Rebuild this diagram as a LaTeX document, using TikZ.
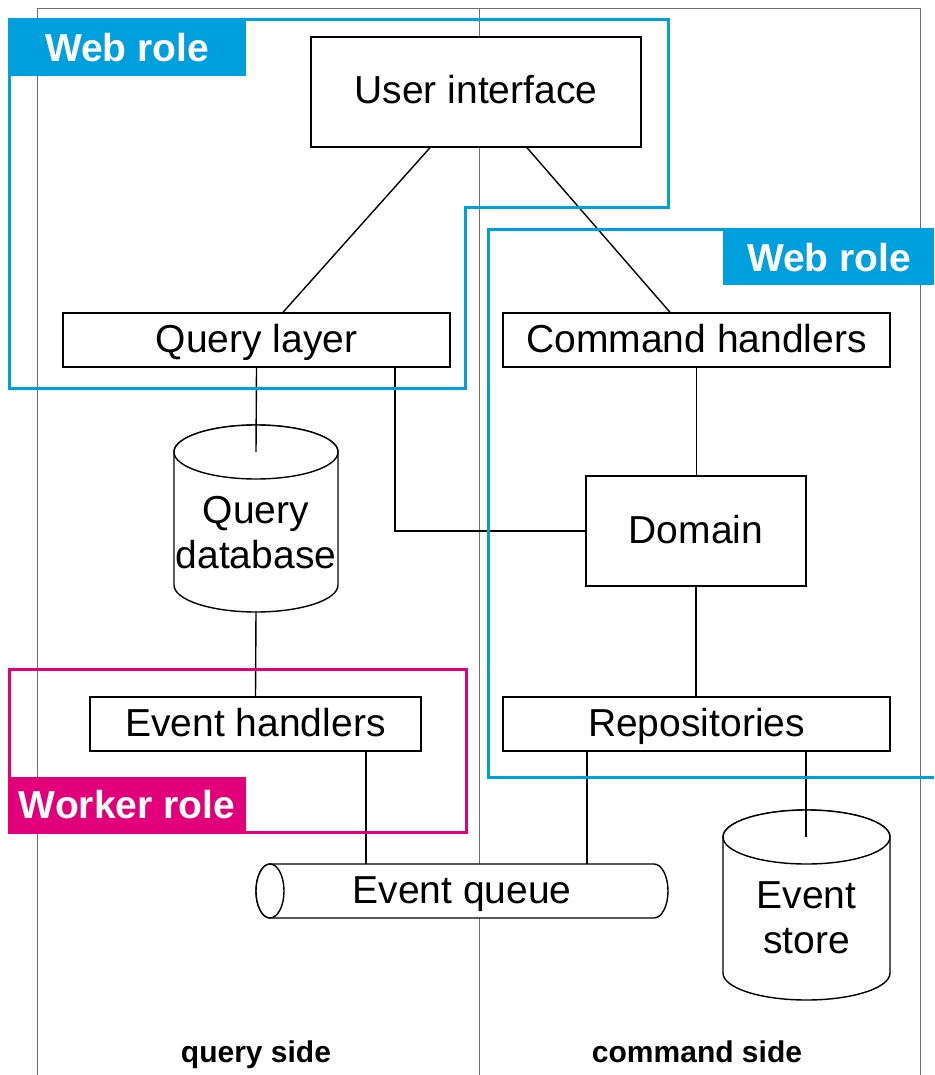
\documentclass[tikz,border=0pt]{standalone}
\usepackage{fontspec}
\setmainfont{Liberation Sans}
\usetikzlibrary{calc}
\definecolor{webblue}{RGB}{0,159,222}
\definecolor{workmag}{RGB}{226,0,122}
\definecolor{framegray}{RGB}{110,110,110}
\tikzset{
  frameline/.style={draw=framegray, line width=1pt},
  conn/.style={draw=black, line width=1.4pt},
  boxnode/.style={draw=black, line width=1.4pt, fill=white, inner sep=0pt, text height=27pt, text depth=3pt, font=\fontsize{39}{44}\selectfont},
  dbtext/.style={inner sep=0pt, align=center, font=\fontsize{39}{45}\selectfont},
  cyl/.style={draw=black, line width=1.4pt, fill=white},
  webbox/.style={draw=webblue, line width=3pt},
  workbox/.style={draw=workmag, line width=3pt},
  rolelabel/.style={inner sep=0pt, anchor=base, text=white, font=\fontsize{39}{44}\selectfont\bfseries},
  sidelabel/.style={inner sep=0pt, anchor=base, font=\fontsize{30}{36}\selectfont\bfseries}
}
\begin{document}
\begin{tikzpicture}[x=1pt,y=1pt]
\useasboundingbox (0,0) rectangle (934,-1075);
\fill[white] (0,0) rectangle (934,-1075);
% frame
\draw[frameline] (37,-1075) -- (37,-9) -- (920,-9) -- (920,-1075);
\draw[frameline] (479,-9) -- (479,-1075);

% boxes
\node[boxnode, minimum width=330, minimum height=110] (ui) at (476,-92) {User interface};
\node[boxnode, minimum width=387, minimum height=54] (ql) at (256.5,-340) {Query layer};
\node[boxnode, minimum width=387, minimum height=54] (ch) at (696.5,-340) {Command handlers};
\node[boxnode, minimum width=220, minimum height=110] (dom) at (696,-531) {Domain};
\node[boxnode, minimum width=331, minimum height=54] (eh) at (255.5,-724) {Event handlers};
\node[boxnode, minimum width=387, minimum height=54] (rep) at (696.5,-724) {Repositories};

% query database cylinder
\draw[cyl] (174,-452) -- (174,-585) arc[start angle=180,end angle=360,x radius=82,y radius=27]
  -- (338,-452) arc[start angle=0,end angle=180,x radius=82,y radius=27] -- cycle;
\draw[cyl] (256,-452) ellipse[x radius=82,y radius=27];
\node[dbtext] (qdb) at (256,-533) {Query\\database};
\coordinate (qdbtop) at (256,-452);
\coordinate (qdbbot) at (256,-612);

% event store cylinder
\draw[cyl] (723,-837) -- (723,-973) arc[start angle=180,end angle=360,x radius=83.5,y radius=27]
  -- (890,-837) arc[start angle=0,end angle=180,x radius=83.5,y radius=27] -- cycle;
\draw[cyl] (806.5,-837) ellipse[x radius=83.5,y radius=27];
\node[dbtext] (es) at (806.5,-918) {Event\\store};
\coordinate (estop) at (806,-837);

% event queue cylinder
\draw[cyl] (270,-864) -- (654,-864) arc[start angle=90,end angle=-90,x radius=14,y radius=27]
  -- (270,-918) arc[start angle=270,end angle=90,x radius=14,y radius=27] -- cycle;
\draw[cyl] (270,-891) ellipse[x radius=14,y radius=27];
\node[boxnode, draw=none, fill=none] (eq) at (462,-891) {Event queue};
\coordinate (eqtop1) at (366,-864);
\coordinate (eqtop2) at (587,-864);

% connectors
\draw[conn] ($(ui.south)+(-46,0)$) -- ($(ql.north)+(26.5,0)$);
\draw[conn] ($(ui.south)+(51,0)$) -- ($(ch.north)+(-26.5,0)$);
\draw[conn] (ql.south) -- (qdbtop);
\draw[conn] ($(ql.south)+(138.5,0)$) |- (dom.west);
\draw[conn] (ch.south) -- (ch.south |- dom.north);
\draw[conn] (dom.south) -- (dom.south |- rep.north);
\draw[conn] (qdbbot) -- (eh.north);
\draw[conn] ($(eh.south)+(110.5,0)$) -- (eqtop1);
\draw[conn] ($(rep.south)+(-109.5,0)$) -- (eqtop2);
\draw[conn] ($(rep.south)+(109.5,0)$) -- (estop);

% roles
\draw[webbox] (9,-20) -- (668,-20) -- (668,-208) -- (465,-208) -- (465,-388) -- (9,-388) -- cycle;
\fill[webblue] (7.5,-18.5) rectangle (246,-76);
\node[rolelabel] (wr1) at (127,-62) {Web role};

\draw[webbox] (934,-230) -- (488,-230) -- (488,-777) -- (934,-777);
\fill[webblue] (723,-228.5) rectangle (934,-285);
\node[rolelabel] (wr2) at (829,-271) {Web role};

\draw[workbox] (9,-669) rectangle (466,-832);
\fill[workmag] (7.5,-777) rectangle (246,-833.5);
\node[rolelabel] (wk) at (127,-818) {Worker role};

% side labels
\node[sidelabel] (qs) at (256,-1062) {query side};
\node[sidelabel] (cs) at (697,-1062) {command side};
\end{tikzpicture}
\end{document}
